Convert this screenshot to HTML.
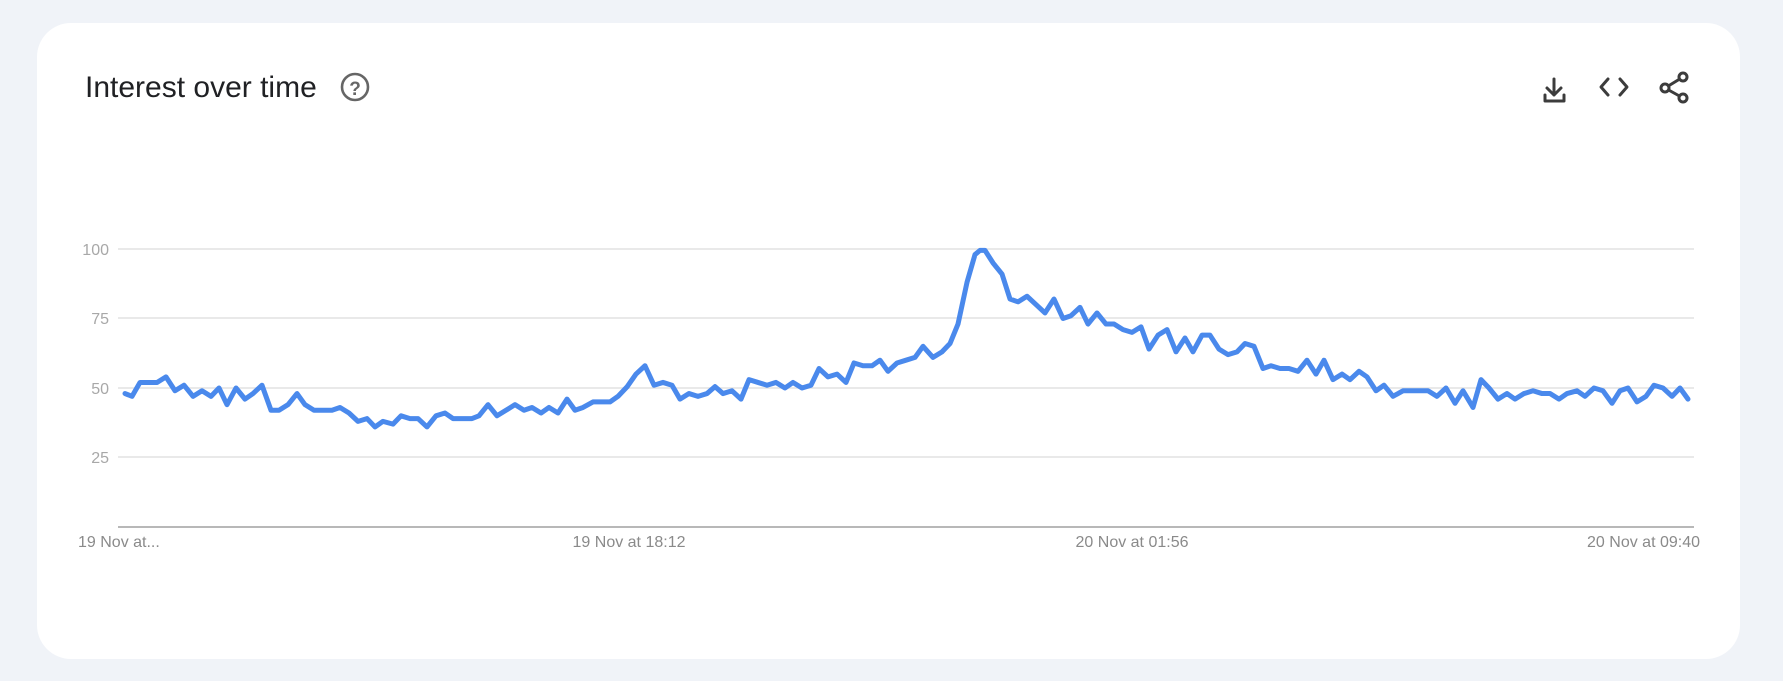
<!DOCTYPE html>
<html><head><meta charset="utf-8"><style>
html,body{margin:0;padding:0;background:#f0f3f8;width:1783px;height:681px;overflow:hidden}
</style></head><body>
<svg width="1783" height="681" viewBox="0 0 1783 681" xmlns="http://www.w3.org/2000/svg" style="position:absolute;left:0;top:0;font-family:'Liberation Sans',sans-serif">
<rect x="37" y="23" width="1703" height="636" rx="34" fill="#fff"/>
<text x="85" y="97" font-size="30" fill="#202124">Interest over time</text>
<circle cx="355" cy="87" r="13" fill="none" stroke="#666" stroke-width="2.6"/>
<text x="355" y="95" font-size="19" font-weight="bold" fill="#666" text-anchor="middle">?</text>
<g stroke="#3c3c3c" stroke-width="3" fill="none" stroke-linecap="round" stroke-linejoin="round">
<path d="M1554 79 V95 M1547 88 L1554 95 L1561 88"/>
<path d="M1545 95 V101 H1564 V95"/>
<path d="M1608 79 L1601 87 L1608 95 M1620 79 L1627 87 L1620 95"/>
<path d="M1683 77 L1665 88 L1683 98"/>
</g>
<g fill="#fff" stroke="#3c3c3c" stroke-width="3">
<circle cx="1683" cy="77" r="4"/><circle cx="1665" cy="88" r="4"/><circle cx="1683" cy="98" r="4"/>
</g>
<g stroke="#e2e2e2" stroke-width="1.5">
<line x1="118" y1="249" x2="1694" y2="249"/>
<line x1="118" y1="318" x2="1694" y2="318"/>
<line x1="118" y1="388" x2="1694" y2="388"/>
<line x1="118" y1="457" x2="1694" y2="457"/>
</g>
<line x1="118" y1="527" x2="1694" y2="527" stroke="#a0a0a0" stroke-width="1.5"/>
<g font-size="16" fill="#a8a8a8" text-anchor="end">
<text x="109" y="255">100</text><text x="109" y="324">75</text><text x="109" y="394">50</text><text x="109" y="463">25</text>
</g>
<g font-size="16" fill="#8a8a8a">
<text x="78" y="547">19 Nov at...</text>
<text x="629" y="547" text-anchor="middle">19 Nov at 18:12</text>
<text x="1132" y="547" text-anchor="middle">20 Nov at 01:56</text>
<text x="1700" y="547" text-anchor="end">20 Nov at 09:40</text>
</g>
<g transform="translate(0,527) scale(1,-2.78)">
<polyline fill="none" stroke="#4a89ec" stroke-width="5" stroke-linejoin="round" stroke-linecap="round" vector-effect="non-scaling-stroke" points="
125,48 132,47 140,52 157,52 166,54 175,49 184,51 193,47 202,49 211,47 219,50 227,44 236,50 245,46 253,48 262,51 271,42 279,42 288,44 297,48 305,44 314,42 332,42 340,43 349,41 358,38 367,39 375,36 383,38 393,37 401,40 410,39 418,39 427,36 436,40 445,41 453,39 472,39 479,40 488,44 497,40 506,42 515,44 524,42 532,43 541,41 549,43 558,41 567,46 575,42 583,43 593,45 610,45 618,47 627,50.4 636,55 645,58 654,51 663,52 672,51 680,46 689,48 698,47 707,48 715,50.5 723,48 732,49 741,46 749,53 758,52 767,51 776,52 785,50 793,52 802,50 811,51 819,57 828,54 837,55 846,52 854,59 863,58 872,58 880,60 888,56 897,59 906,60 915,61 923,65 933,61 942,63 950,66 958,73 967,88 975,98 980,99.5 985,99.5 993,95 1002,91 1010,82 1018,81 1027,83 1036,80 1045,77 1054,82 1063,75 1071,76 1080,79 1088,73 1097,77 1106,73 1114,73 1123,71 1132,70 1141,72 1149,64 1158,69 1167,71 1176,63 1185,68 1193,63 1202,69 1210,69 1219,64 1228,62 1237,63 1245,66 1254,65 1263,57 1271,58 1280,57 1289,57 1298,56 1307,60 1316,55 1324,60 1333,53 1342,55 1350,53 1359,56 1367,54 1376,49 1384,51 1393,47 1403,49 1428,49 1437,47 1446,50 1455,44.5 1463,49 1473,43 1481,53 1489,50 1498,46 1507,48 1515,46 1524,48 1533,49 1542,48 1550,48 1559,46 1567,48 1577,49 1585,47 1594,50 1603,49 1612,44.5 1620,49 1628,50 1637,45 1646,47 1654,51 1663,50 1672,47 1680,50 1688,46"/>
</g>
</svg>
</body></html>
